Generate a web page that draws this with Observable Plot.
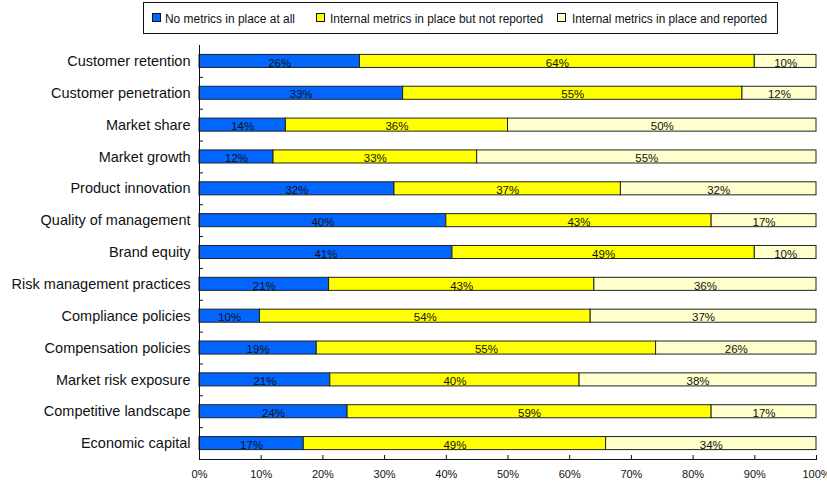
<!DOCTYPE html>
<html>
<head>
<meta charset="utf-8">
<script src="https://cdn.jsdelivr.net/npm/d3@7"></script>
<script src="https://cdn.jsdelivr.net/npm/@observablehq/plot@0.6"></script>
<style>
  html, body { margin: 0; padding: 0; background: #fff; }
  #wrap { position: relative; width: 827px; height: 482px; font-family: "Liberation Sans", Arial, sans-serif; }
  #legend { position: absolute; left: 0; top: 0; }
  #chart { position: absolute; left: 0; top: 0; }
</style>
</head>
<body>
<div id="wrap"><div id="chart"></div><svg id="legend" width="827" height="40"></svg></div>
<script>
const categories = [
  "Customer retention", "Customer penetration", "Market share", "Market growth",
  "Product innovation", "Quality of management", "Brand equity",
  "Risk management practices", "Compliance policies", "Compensation policies",
  "Market risk exposure", "Competitive landscape", "Economic capital"
];
const seriesNames = [
  "No metrics in place at all",
  "Internal metrics in place but not reported",
  "Internal metrics in place and reported"
];
const seriesColors = ["#0066ff", "#ffff00", "#ffffcc"];
const noMetrics   = [26, 33, 14, 12, 31.6, 40, 41, 21, 9.8, 19, 21.2, 24, 16.9];
const notReported = [64, 55, 36, 33, 36.7, 43, 49, 43, 53.6, 55, 40.4, 59, 49.0];
const reported    = [10, 12, 50, 55, 31.7, 17, 10, 36, 36.6, 26, 38.4, 17, 34.1];
const xTicks = [0, 0.1, 0.2, 0.3, 0.4, 0.5, 0.6, 0.7, 0.8, 0.9, 1];

const seriesValues = [noMetrics, notReported, reported];
const data = [];
seriesValues.forEach((vals, s) => {
  vals.forEach((v, i) => data.push({category: categories[i], series: seriesNames[s], value: v / 100, label: Math.round(v) + "%"}));
});

const W = 827, H = 482, mL = 199, mR = 11, mT = 45, mB = 23;
const frameH = H - mT - mB, frameW = W - mL - mR;
const step = frameH / categories.length;

const chart = Plot.plot({
  width: W, height: H,
  marginLeft: mL, marginRight: mR, marginTop: mT, marginBottom: mB,
  style: {fontFamily: "Liberation Sans, Arial, sans-serif", background: "white", color: "#111"},
  x: {domain: [0, 1], round: false},
  y: {domain: categories, paddingInner: 0.59, paddingOuter: 0.295, round: false},
  color: {domain: seriesNames, range: seriesColors},
  marks: [
    Plot.barX(data, Plot.stackX({x: "value", y: "category", fill: "series", stroke: "#222", strokeWidth: 1})),
    Plot.text(data, Plot.stackX({x: "value", y: "category", z: "series", text: "label", fontSize: 11.5, fill: "#111", dy: 1.5})),
    Plot.frame({anchor: "left", stroke: "#111"}),
    Plot.frame({anchor: "bottom", stroke: "#111"}),
    Plot.tickX(xTicks, {x: d => d, insetTop: frameH - 4, stroke: "#111"}),
    Plot.tickY(categories.slice(1), {y: d => d, dy: -step / 2, insetRight: frameW - 4, stroke: "#111"}),
    Plot.axisX({ticks: xTicks, tickFormat: d3.format(".0%"), tickSize: 0, tickPadding: 11, fontSize: 11, label: null}),
    Plot.axisY({tickSize: 0, tickPadding: 9, fontSize: 14.5, label: null})
  ]
});
document.getElementById("chart").appendChild(chart);

// Legend
const lg = d3.select("#legend");
lg.append("rect").attr("x", 143.5).attr("y", 2.5).attr("width", 634).attr("height", 31)
  .attr("fill", "white").attr("stroke", "#111").attr("stroke-width", 1);
const swX = [152, 316, 557];
const txX = [165, 330, 572];
const txW = [130, 213, 195];
seriesNames.forEach((name, i) => {
  lg.append("rect").attr("x", swX[i] + 0.5).attr("y", 13.5).attr("width", 8).attr("height", 8)
    .attr("fill", seriesColors[i]).attr("stroke", "#111").attr("stroke-width", 1);
  lg.append("text").attr("x", txX[i]).attr("y", 22.5).attr("font-size", 12.5)
    .attr("font-family", "Liberation Sans, Arial, sans-serif").attr("fill", "#111")
    .attr("textLength", txW[i]).attr("lengthAdjust", "spacingAndGlyphs").text(name);
});
</script>
</body>
</html>
